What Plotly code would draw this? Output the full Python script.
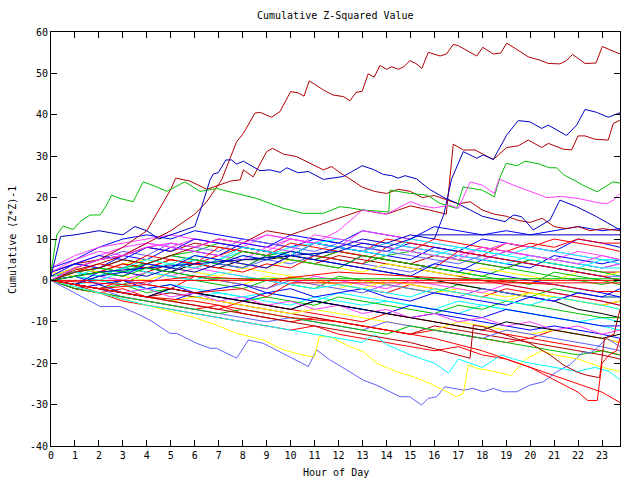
import plotly.graph_objects as go

# ---- colours (gnuplot-like palette) ----
R = '#ff0000'; G = '#00c000'; B = '#0000ff'; M = '#ff40ff'; C = '#00ffff'
DR = '#b00000'; Y = '#ffff00'; K = '#000000'; LB = '#6060ff'; DB = '#0000c0'

HOURS = [0, 1, 2, 3, 4, 5, 6, 7, 8, 9, 10, 11, 12, 13, 14, 15, 16, 17, 18, 19, 20, 21, 22, 23, 23.75]
X_TICKS = list(range(0, 24))
Y_TICKS = [-40, -30, -20, -10, 0, 10, 20, 30, 40, 50, 60]

# ---- traced outlier series (hour, value) ----
top_dr_h = [0, 1, 2, 3, 4, 5, 5.5, 6, 6.5, 7.12, 7.75, 8.03, 8.51, 8.72, 9.21, 9.56, 10.0, 10.32, 10.56, 10.78, 11.37, 11.76, 12.2, 12.48, 12.73, 12.99, 13.24, 13.49, 13.73, 14.01, 14.22, 14.5, 14.73, 14.98, 15.23, 15.48, 15.75, 16.24, 16.51, 16.79, 17.0, 17.77, 18.02, 18.46, 18.77, 19.02, 19.44, 19.92, 20.41, 20.76, 21.24, 21.52, 21.77, 22.29, 22.75, 23.01, 23.33, 23.75]
top_dr_v = [0, 2.5, 4, 6, 9, 12, 14, 16, 19, 24.3, 33.5, 35.5, 40.4, 40.6, 39.4, 40.8, 45.6, 45.3, 44.5, 48.2, 46.0, 44.8, 44.4, 43.4, 45.4, 45.7, 49.9, 49.1, 51.9, 51.0, 51.6, 51.0, 51.6, 53.1, 52.4, 51.2, 55.1, 54.2, 54.7, 57.0, 56.7, 54.2, 56.3, 54.7, 54.9, 57.3, 55.8, 54.0, 53.2, 52.4, 52.3, 53.1, 54.6, 52.4, 52.5, 56.5, 55.7, 54.7]

dr2_h = [0, 1, 2, 3, 4, 4.5, 5, 5.2, 5.8, 6.5, 7, 7.5, 7.9, 8.03, 8.44, 9.0, 9.25, 9.7, 10.25, 10.95, 11.37, 11.72, 12.06, 12.48, 13, 13.5, 14, 14.5, 15, 15.5, 16, 16.5, 17, 17.5, 18, 18.5, 19, 19.5, 20, 20.5, 21, 21.5, 22, 22.5, 23, 23.75]
dr2_v = [0, 3, 5, 8, 12, 17, 22, 24.7, 24, 22, 23, 24, 24.3, 26.7, 25.0, 31.1, 31.9, 30.5, 29.9, 27.9, 26.7, 27.5, 26.0, 24.5, 22.5, 21.5, 21, 22, 21.5, 20, 20.5, 19.5, 18.5, 19, 17, 16, 15.5, 14.5, 14, 15, 13, 12.5, 13, 12, 12.5, 12]

dr3_h = [0, 1, 2, 3, 4, 5, 6, 7, 8, 9, 10, 11, 12, 13, 14, 15, 15.8, 16.5, 16.79, 17.21, 17.7, 18.46, 19.02, 19.5, 19.92, 20.48, 20.76, 21.38, 21.73, 22.0, 22.29, 22.7, 23.26, 23.47, 23.75]
dr3_v = [0, 2, 3, 5, 4, 6, 8, 10, 9, 12, 11, 13, 15, 17, 16, 18, 17, 16, 32.9, 31.5, 31.5, 29.2, 32.1, 32.5, 33.9, 32.1, 33.1, 31.7, 31.5, 34.9, 34.9, 34.1, 33.9, 37.9, 38.7]

b4_h = [0, 1, 2, 3, 4, 5, 6, 7, 8, 9, 10, 11, 12, 13, 14, 15, 16, 16.4, 16.72, 17.21, 17.77, 18.04, 18.46, 19.02, 19.5, 19.99, 20.48, 20.76, 21.52, 21.94, 22.29, 22.77, 23.26, 23.75]
b4_v = [0, -1, 1, 2, 1, 3, 2, 4, 6, 5, 7, 6, 8, 10, 9, 11, 10, 16, 24.5, 31.1, 29.5, 30.3, 29.2, 35.1, 38.6, 38.3, 36.7, 37.5, 35.0, 37.5, 41.3, 40.6, 39.4, 40.5]

b5_h = [0, 0.4, 1, 2, 3, 3.5, 4, 4.5, 5, 5.5, 6, 6.3, 6.64, 6.78, 6.98, 7.3, 7.54, 7.75, 8.03, 8.72, 9.14, 9.56, 9.84, 10.32, 10.74, 11.37, 12.2, 12.99, 13.45, 13.87, 14.22, 14.5, 14.78, 15.26, 15.8, 16.4, 17, 17.5, 18, 18.5, 18.95, 19.3, 19.64, 20.13, 20.83, 21.24, 21.94, 22.77, 23.6, 23.75]
b5_v = [1, 10.6, 11, 12, 11, 13, 12, 10, 11, 12, 13, 18, 24.3, 25.7, 26.0, 29.1, 29.1, 28.1, 28.8, 26.5, 26.7, 26.1, 27.2, 26.0, 26.3, 24.4, 25.1, 27.7, 26.8, 25.6, 25.3, 24.7, 25.3, 24.5, 22, 20, 18.5, 17, 15.5, 14.8, 14.2, 15.8, 15.4, 12.2, 14.6, 19.4, 17.8, 15.4, 12.6, 12.2]

green_h = [0, 0.24, 0.5, 0.93, 1.21, 1.63, 2.05, 2.32, 2.53, 2.88, 3.43, 3.85, 4.41, 4.83, 5.59, 6.22, 6.91, 7.75, 8.58, 9.7, 10.53, 11.37, 12.06, 12.5, 13, 13.5, 14.1, 14.15, 15, 15.7, 16.24, 16.93, 17.2, 18.0, 18.5, 18.75, 19.0, 19.45, 19.8, 20.4, 20.8, 21.1, 21.4, 21.9, 22.2, 22.8, 23.45, 23.75]
green_v = [2, 11, 13.1, 12.3, 14.2, 15.8, 15.8, 18.2, 20.6, 19.8, 19.0, 23.8, 22.6, 21.5, 23.8, 21.5, 22.2, 21.0, 19.8, 17.4, 16.2, 16.2, 17.8, 17.5, 17, 16.8, 16.5, 21.8, 21, 20.6, 18.6, 17.4, 22.6, 21.8, 20.2, 25, 28.3, 27.7, 28.8, 28.1, 27.2, 27.2, 25.5, 24, 23, 21.4, 23.8, 23.5]

mag_h = [0, 1, 2, 3, 4, 5, 6, 7, 8, 9, 10, 11, 12, 13, 14, 15, 15.5, 16, 16.65, 17.0, 17.5, 18.0, 18.5, 18.7, 19.3, 20.0, 20.7, 21.3, 22.0, 22.8, 23.2, 23.5, 23.75]
mag_v = [0, 3, 5, 6, 8, 9, 8, 10, 9, 11, 10, 9, 12, 17, 16, 19, 18, 17.5, 18.2, 17.4, 23.8, 23.0, 21.0, 24.5, 23.0, 21.5, 20.0, 20.3, 19.8, 18.8, 18.5, 19.5, 21.0]

lb_h = [0, 1, 2.05, 2.88, 3.58, 4.13, 4.97, 5.25, 6.08, 6.64, 6.91, 7.75, 8.24, 8.86, 9.97, 10.74, 11.09, 11.64, 12.34, 13.03, 13.59, 14.15, 14.57, 14.98, 15.47, 15.75, 16.1, 16.44, 16.93, 17.21, 17.63, 18.04, 18.46, 18.88, 19.44, 19.99, 20.55, 21.1, 21.38, 21.66, 22.22, 22.5, 22.77, 23.2, 23.75]
lb_v = [0, -3, -6.3, -6.3, -8.0, -9.6, -12.8, -12.8, -15.2, -16.4, -16.4, -18.8, -14.4, -15.2, -18.4, -20.8, -16.8, -19.2, -21.6, -24.1, -25.3, -26.9, -28.1, -28.1, -30.1, -28.5, -28.1, -25.7, -26.1, -26.5, -26.1, -26.9, -26.1, -26.9, -26.9, -25.3, -24.5, -22.1, -21.2, -20.4, -17.2, -17.6, -16.4, -14, -16]

yl_h = [0, 1, 2, 3, 4, 5, 6, 7, 7.75, 8.86, 9.7, 10.5, 11, 11.2, 11.64, 11.92, 12.48, 13.03, 13.59, 14.43, 15.12, 15.82, 16.37, 16.93, 17.21, 17.42, 17.77, 18.5, 19.2, 19.8, 20.5, 21, 22, 23, 23.75]
yl_v = [0, -1.5, -3, -4.5, -6, -7.5, -9, -11, -12.8, -14.4, -16.8, -18, -18.5, -13.5, -13.6, -14.4, -16.0, -17.2, -20.0, -22.1, -23.3, -24.9, -26.5, -28.1, -27.3, -20.4, -21.2, -22, -23, -19, -17, -18, -19, -21, -22]

cy_h = [0, 2, 4, 6, 8, 10, 12, 13, 13.5, 14, 15, 16, 16.6, 17, 17.5, 18, 18.8, 19.3, 20, 21, 22, 22.7, 23.3, 23.75]
cy_v = [0, -3, -6, -8, -10, -12, -14, -15, -13, -15.5, -18, -20, -22.4, -19, -20, -21, -18, -19, -20, -21, -22, -21, -22, -24]

drl_h = [0, 1, 2, 3, 4, 5, 6, 7, 8, 9, 10, 11, 12, 13, 14, 15, 16, 17, 17.49, 17.63, 18.04, 18.6, 19.44, 19.99, 20.83, 21.38, 21.94, 22.36, 22.9, 23.1, 23.5, 23.75]
drl_v = [0, -1, -2, -3, -4, -5, -6, -7, -8, -9, -10, -11, -12, -13, -14, -15, -16.5, -18, -18.8, -10.8, -11.2, -12.4, -14.0, -15.2, -18.0, -20.4, -22.1, -22.9, -23.5, -14, -13, -7]

rj_h = [0, 2, 4, 6, 8, 10, 12, 14, 16, 18, 20, 21, 22, 22.4, 22.8, 23.0, 23.3, 23.6, 23.75]
rj_v = [0, -2, -4, -5, -7, -9, -10, -12, -14, -17, -21, -24, -27, -29, -29, -20, -18, -17, -14]

flat_blue_h = [0, 2, 4, 6, 8, 10, 12, 13, 14, 15, 15.4, 23.75]
flat_blue_v = [0, 2, 3, 4, 5, 6, 7, 9, 8, 10, 11, 11]
flat_red0_h = [0, 23.75]
flat_red0_v = [0, 0]
flat_green_h = [0, 1, 2, 3, 4, 5, 6, 6.6, 23.75]
flat_green_v = [0, 1, 2, 1, 3, 2, 1, 0.4, 0.4]
flat_red1_h = [0, 2, 4, 6, 8, 9, 10, 23.75]
flat_red1_v = [0, -2, -1, -3, -2, -4, -0.6, -0.6]
flat_red2_h = [0, 3, 6, 9, 12, 15, 18, 21, 22.8, 23.75]
flat_red2_v = [0, -1, 1, 0, 2, 1, 0, -1, -2.7, -2.7]

# ---- bundle series, one value per hour (HOURS) ----
s01 = [0, -1, -2, 0, -1, -2, 1, 0, -1, -2, 1, 0, -1, -2, -3, -1, -2, -3, -4, -2, -3, -4, -5, -6, -5]
s02 = [0, 1, 0, -1, 2, 1, 0, -1, -2, 0, -1, -2, 1, 0, -1, -2, -3, -1, -2, -3, -4, -2, -3, -4, -4]
s03 = [1, 3, 2, 4, 3, 2, 5, 4, 3, 6, 5, 4, 3, 6, 5, 4, 3, 2, 5, 4, 3, 6, 5, 4, 5]
s04 = [2, 4, 6, 8, 9, 8, 10, 9, 8, 7, 10, 9, 8, 7, 9, 8, 7, 6, 8, 7, 6, 5, 7, 6, 5]
s05 = [0, -1, -2, -3, -2, -3, -4, -3, -4, -5, -6, -4, -5, -6, -5, -6, -7, -8, -6, -7, -8, -9, -10, -9, -10]
s06 = [1, 2, 1, 3, 2, 4, 3, 5, 4, 3, 6, 5, 7, 6, 5, 4, 6, 5, 4, 3, 5, 4, 3, 2, 2]
s07 = [0, 1, 2, 1, 0, 2, 1, 0, -1, 1, 0, -1, -2, 0, -1, -2, -3, -2, -3, -4, -3, -4, -5, -6, -5]
s08 = [1, 2, 3, 2, 3, 2, 4, 3, 5, 5, 6, 5, 4, 3, 2, 1, 0, -1, -2, -3, -4, -5, -7, -8, -9]
s09 = [0, -1, 1, 0, -1, 2, 1, 0, -1, -2, 0, -1, -2, -3, -1, -2, -3, -4, -2, -3, -4, -5, -3, -4, -4]
s10 = [0, -2, -3, -4, -5, -6, -7, -6, -8, -9, -10, -9, -10, -11, -12, -13, -12, -13, -14, -15, -14, -15, -16, -17, -18]
s11 = [0, 2, 1, 3, 4, 3, 5, 4, 3, 6, 7, 6, 5, 4, 6, 7, 6, 5, 4, 3, 5, 4, 3, 2, 1]
s12 = [0, -1, -2, -3, -4, -5, -3, -4, -5, -6, -7, -5, -6, -7, -8, -9, -8, -9, -10, -11, -12, -11, -12, -13, -14]
s13 = [1, 2, 1, 0, 2, 1, 3, 2, 1, 0, -1, 1, 0, -1, -2, 0, -1, -2, -3, -1, -2, -3, -4, -5, -6]
s14 = [0, -1, 0, -1, -2, -1, -2, -3, -4, -3, -4, -5, -3, -4, -5, -6, -7, -5, -6, -7, -8, -9, -10, -11, -12]
s15 = [0, -1, -2, -3, -4, -3, -4, -5, -6, -7, -8, -9, -10, -11, -12, -13, -11, -12, -13, -14, -15, -16, -17, -18, -19]
s16 = [2, 1, 3, 2, 4, 3, 2, 1, 3, 2, 1, 0, -1, -2, 0, -1, -2, -3, -4, -5, -3, -4, -5, -6, -7]
s17 = [3, 5, 8, 10, 11, 10, 12, 11, 10, 9, 8, 10, 9, 8, 7, 9, 8, 7, 10, 9, 8, 7, 10, 9, 8]
s18 = [1, 3, 2, 4, 3, 5, 4, 6, 8, 7, 6, 9, 8, 7, 10, 9, 8, 7, 6, 9, 8, 10, 9, 8, 7]
s19 = [0, -1, -2, -1, -3, -2, -3, -4, -5, -4, -5, -6, -4, -5, -6, -7, -8, -6, -7, -5, -6, -7, -8, -9, -9]
s20 = [2, 4, 3, 5, 4, 6, 5, 4, 3, 5, 4, 6, 5, 4, 3, 2, 4, 6, 5, 7, 6, 5, 4, 3, 4]
s21 = [1, 3, 5, 6, 8, 9, 8, 10, 9, 8, 10, 9, 8, 7, 9, 8, 7, 6, 5, 7, 6, 5, 4, 3, 4]
s22 = [0, 1, 3, 2, 4, 3, 5, 4, 6, 5, 7, 6, 8, 7, 9, 8, 7, 6, 5, 4, 6, 5, 4, 3, 3]
s23 = [0, -2, -1, -3, -4, -2, -3, -4, -5, -3, -4, -5, -6, -7, -8, -6, -7, -8, -9, -7, -8, -9, -10, -11, -11]
s24 = [0, -1, -3, -2, -4, -5, -6, -7, -5, -6, -7, -8, -9, -10, -8, -9, -10, -11, -12, -13, -14, -12, -13, -14, -15]
s25 = [2, 4, 5, 6, 8, 7, 9, 8, 7, 6, 5, 4, 6, 5, 4, 3, 2, 1, 0, -1, -2, -3, -4, -5, -6]
s26 = [0, -1, -2, -3, -4, -5, -4, -5, -6, -7, -8, -7, -8, -9, -10, -11, -12, -10, -11, -12, -13, -12, -13, -14, -15]
s27 = [1, 2, 3, 5, 4, 6, 7, 9, 8, 7, 6, 5, 7, 6, 5, 4, 3, 2, 1, 3, 2, 1, 0, -1, 0]
s28 = [0, 1, -1, 0, -2, -1, -3, -2, -1, -3, -2, -4, -3, -2, -4, -5, -3, -4, -5, -6, -4, -5, -3, -4, -2]
s29 = [0, -1, -2, -3, -2, -4, -3, -5, -4, -6, -5, -7, -6, -8, -7, -9, -8, -10, -9, -11, -10, -12, -11, -13, -12]
s30 = [1, 2, 1, 3, 2, 1, 0, 2, 1, 0, -1, -2, -1, -2, -3, -4, -2, -3, -4, -5, -6, -4, -5, -6, -7]
s31 = [0, -1, -2, -4, -5, -6, -7, -8, -9, -10, -9, -10, -11, -12, -10, -11, -12, -13, -14, -12, -13, -14, -15, -16, -17]
s32 = [0, -2, -3, -5, -6, -7, -8, -9, -10, -11, -12, -11, -13, -14, -15, -16, -17, -16, -18, -19, -21, -23, -25, -27, -29.5]
s34 = [2, 4, 3, 6, 5, 8, 7, 6, 9, 8, 11, 10, 9, 12, 11, 10, 13, 12, 11, 12, 11, 12, 13, 12, 12.5]
s35 = [1, 3, 2, 4, 5, 4, 6, 5, 4, 3, 5, 4, 3, 2, 4, 3, 2, 1, 3, 2, 1, 0, 2, 1, 2]
s36 = [0, -1, -2, -3, -4, -2, -3, -4, -5, -6, -7, -5, -6, -7, -8, -9, -10, -11, -12, -10, -11, -12, -13, -14, -13]
s37 = [0, -2, -3, -4, -5, -6, -7, -8, -7, -8, -9, -10, -11, -12, -13, -11, -12, -13, -14, -15, -16, -17, -18, -17, -18]
s38 = [3, 6, 8, 9, 10, 11, 10, 9, 8, 11, 10, 9, 8, 12, 11, 10, 9, 8, 7, 9, 8, 7, 6, 5, 4]
s39 = [0, 1, 2, 4, 3, 5, 4, 3, 2, 4, 3, 6, 5, 4, 8, 7, 10, 9, 8, 7, 9, 8, 10, 9, 9]
s40 = [0, 1, 0, 2, 3, 4, 3, 5, 7, 6, 8, 9, 10, 9, 8, 7, 6, 8, 7, 6, 8, 7, 6, 5, 5]
s41 = [0, 3, 5, 7, 6, 9, 8, 7, 10, 9, 8, 7, 9, 8, 7, 6, 5, 4, 6, 5, 4, 3, 2, 1, 1]
s42 = [1, 4, 6, 5, 8, 7, 10, 9, 8, 7, 6, 9, 8, 7, 6, 5, 8, 7, 6, 5, 4, 3, 2, 1, 0]
s43 = [2, 5, 7, 6, 9, 8, 7, 6, 5, 8, 7, 11, 10, 9, 8, 7, 6, 5, 8, 7, 6, 5, 4, 6, 5]
s44 = [0, 2, 4, 3, 6, 5, 4, 8, 7, 6, 9, 8, 7, 6, 5, 4, 3, 7, 6, 5, 4, 3, 2, 1, 0]
s45 = [0, 2, 3, 2, 4, 6, 5, 4, 7, 6, 5, 4, 3, 6, 5, 4, 3, 2, 1, 0, -1, 2, 1, 0, -1]
s46 = [0, 2, 1, 3, 5, 4, 6, 5, 8, 7, 6, 9, 8, 7, 6, 10, 9, 8, 7, 6, 5, 4, 3, 5, 4]
s47 = [0, -1, 2, 1, 4, 3, 6, 5, 4, 3, 6, 5, 4, 3, 2, 1, 4, 3, 2, 1, 0, -1, -2, -3, -4]

bundle = [(s01, R), (s02, G), (s03, B), (s04, M), (s05, C), (s06, DR), (s07, Y), (s08, K),
          (s09, LB), (s10, R), (s11, G), (s12, B), (s13, M), (s14, C), (s15, DR), (s16, Y),
          (s17, B), (s18, R), (s19, G), (s20, LB), (s21, M), (s22, C), (s23, B), (s24, R),
          (s25, DR), (s26, Y), (s27, G), (s28, B), (s29, M), (s30, C), (s31, LB), (s32, R),
          (s34, B), (s35, Y), (s36, K), (s37, G), (s38, M), (s39, R), (s40, C),
          (s41, LB), (s42, B), (s43, M), (s44, R), (s45, G), (s46, C), (s47, B)]

traced = [(top_dr_h, top_dr_v, DR), (dr2_h, dr2_v, DR), (dr3_h, dr3_v, DR), (b4_h, b4_v, DB),
          (b5_h, b5_v, DB), (green_h, green_v, G), (mag_h, mag_v, M), (lb_h, lb_v, LB),
          (yl_h, yl_v, Y), (cy_h, cy_v, C), (drl_h, drl_v, DR), (rj_h, rj_v, R),
          (flat_blue_h, flat_blue_v, DB), (flat_green_h, flat_green_v, G),
          (flat_red0_h, flat_red0_v, R), (flat_red1_h, flat_red1_v, R), (flat_red2_h, flat_red2_v, R)]

fig = go.Figure()
for vals, col in bundle:
    fig.add_trace(go.Scatter(x=HOURS, y=vals, mode='lines', line=dict(color=col, width=1),
                             hoverinfo='skip'))
for hs, vs, col in traced:
    fig.add_trace(go.Scatter(x=hs, y=vs, mode='lines', line=dict(color=col, width=1),
                             hoverinfo='skip'))

FONT = 'DejaVu Sans Mono'
axis_common = dict(ticks='inside', ticklen=6, tickcolor='black', tickwidth=1,
                   showline=True, linecolor='black', linewidth=1, mirror='ticks',
                   showgrid=False, zeroline=False,
                   tickfont=dict(family=FONT, size=10, color='black'))

fig.update_layout(
    width=640, height=480,
    margin=dict(l=51, r=20, t=32, b=34),
    plot_bgcolor='white', paper_bgcolor='white',
    showlegend=False,
    font=dict(family=FONT, size=10, color='black'),
    xaxis=dict(range=[0, 23.75], tickvals=X_TICKS, ticktext=[str(t) for t in X_TICKS],
               **axis_common),
    yaxis=dict(range=[-40, 60], tickvals=Y_TICKS, ticktext=[str(t) for t in Y_TICKS],
               **axis_common),
    annotations=[
        dict(text='Cumulative Z-Squared Value', xref='paper', yref='paper',
             x=0.5, y=1 + 17 / 414, xanchor='center', yanchor='middle', showarrow=False,
             font=dict(family=FONT, size=10)),
        dict(text='Hour of Day', xref='paper', yref='paper',
             x=0.5, y=-26 / 414, xanchor='center', yanchor='middle', showarrow=False,
             font=dict(family=FONT, size=10)),
        dict(text='Cumulative (Z*Z)-1', xref='paper', yref='paper',
             x=-39 / 569, y=206 / 414, xanchor='center', yanchor='middle', showarrow=False,
             textangle=-90, font=dict(family=FONT, size=10)),
    ],
)

fig.write_html('out.html')
